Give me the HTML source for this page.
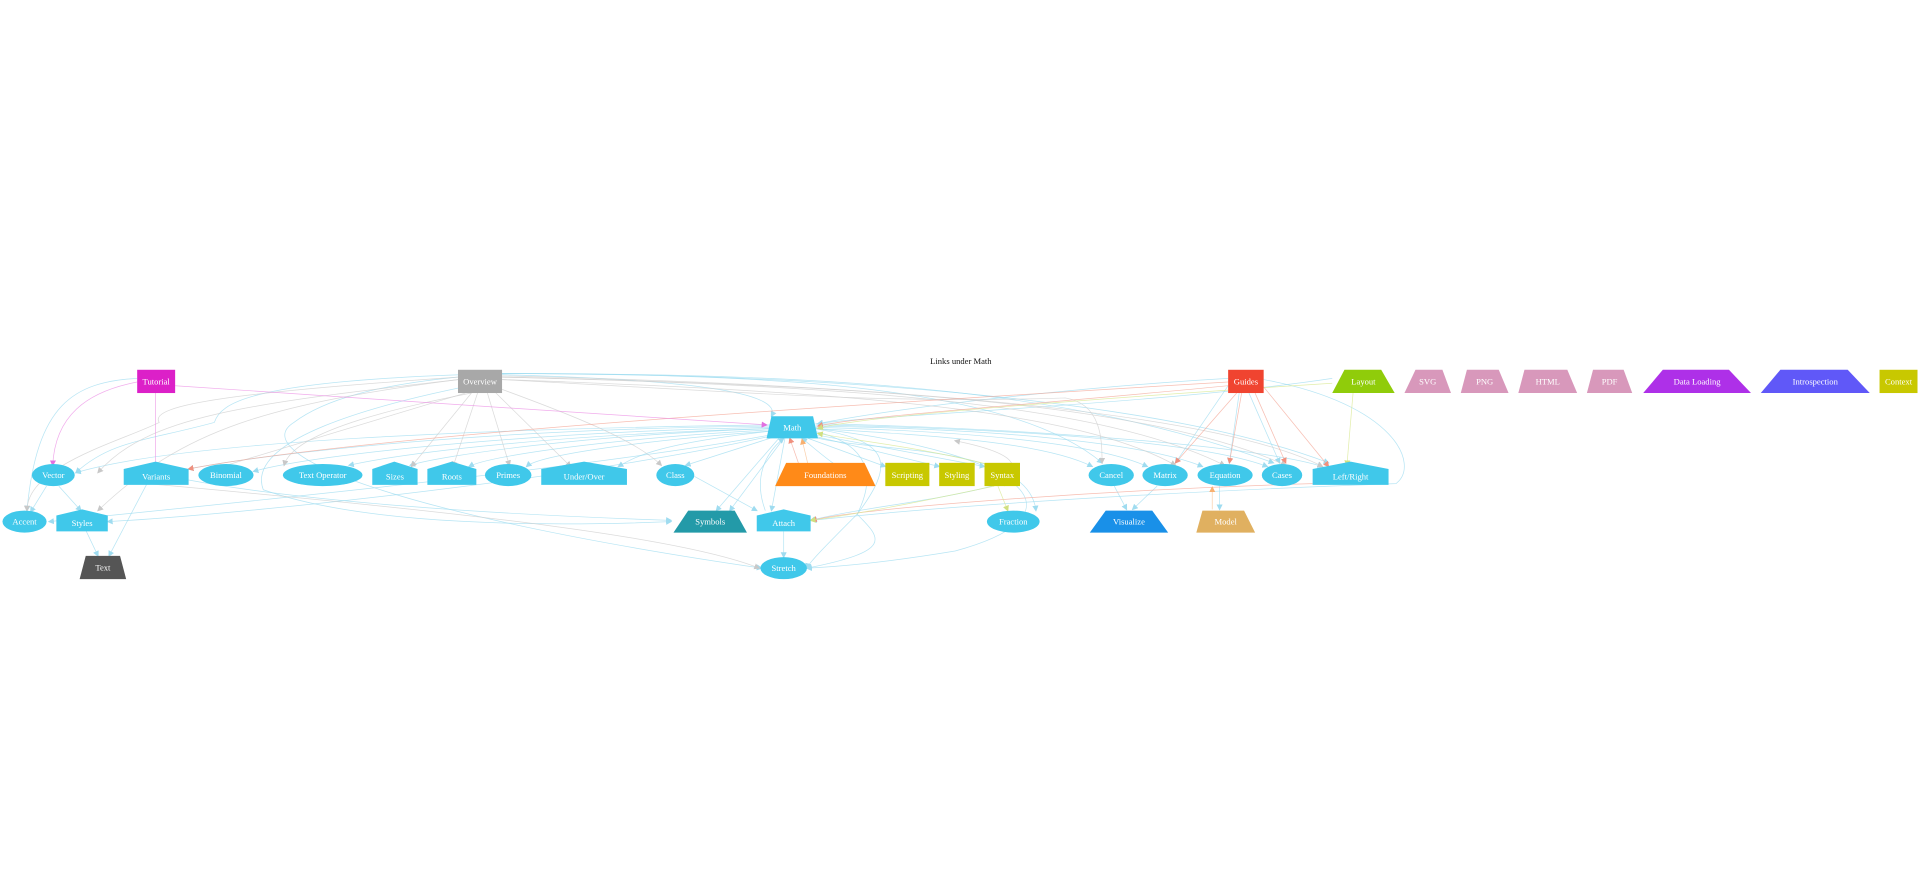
<!DOCTYPE html>
<html><head><meta charset="utf-8"><style>
html,body{margin:0;padding:0;background:#fff;}
svg{display:block;}
text{font-family:"Liberation Serif",serif;font-size:7px;fill:#fff;text-anchor:middle;dominant-baseline:central;}
</style></head><body>
<svg width="1920" height="892" viewBox="0 0 1568 728.5" xmlns="http://www.w3.org/2000/svg">
<defs>
<marker id="b" markerWidth="5" markerHeight="5" refX="4" refY="2.5" orient="auto" markerUnits="userSpaceOnUse"><path d="M0,0L5,2.5L0,5z" fill="#9fdcf0"/></marker>
<marker id="g" markerWidth="5" markerHeight="5" refX="4" refY="2.5" orient="auto" markerUnits="userSpaceOnUse"><path d="M0,0L5,2.5L0,5z" fill="#c8c8c8"/></marker>
<marker id="r" markerWidth="5" markerHeight="5" refX="4" refY="2.5" orient="auto" markerUnits="userSpaceOnUse"><path d="M0,0L5,2.5L0,5z" fill="#f0907e"/></marker>
<marker id="p" markerWidth="5" markerHeight="5" refX="4" refY="2.5" orient="auto" markerUnits="userSpaceOnUse"><path d="M0,0L5,2.5L0,5z" fill="#e070e0"/></marker>
<marker id="y" markerWidth="5" markerHeight="5" refX="4" refY="2.5" orient="auto" markerUnits="userSpaceOnUse"><path d="M0,0L5,2.5L0,5z" fill="#d0e080"/></marker>
<marker id="o" markerWidth="5" markerHeight="5" refX="4" refY="2.5" orient="auto" markerUnits="userSpaceOnUse"><path d="M0,0L5,2.5L0,5z" fill="#f8b070"/></marker>
</defs>
<text x="784.7" y="295" style="fill:#111;font-size:7px">Links under Math</text>
<g fill="none" stroke-width="0.6" stroke-opacity="0.75">
<g stroke="#9fdcf0" marker-end="url(#b)">
<path d="M112,309 C60,312 30,330 22,417"/>
<path d="M410,306 C560,310 640,320 630,340"/>
<path d="M410,305 C200,310 180,330 175,345 C120,360 90,360 62,386"/>
<path d="M410,305 C300,312 260,330 240,345 C200,370 320,420 622,464"/>
<path d="M410,310 C300,330 200,360 215,400 C300,430 450,430 548,426"/>
<path d="M410,305 C600,306 820,310 900,378"/>
<path d="M410,305 C700,305 880,320 1040,378"/>
<path d="M410,305 C700,305 960,330 1085,378"/>
<path d="M1003,309 C900,315 750,330 668,346"/>
<path d="M1003,315 L960,378"/>
<path d="M1012,321 L1004,378"/>
<path d="M1020,321 L1045,378"/>
<path d="M1032,310 C1140,330 1160,380 1140,395 C1000,400 800,410 663,425"/>
<path d="M1088,309 C950,330 700,340 668,346"/>
<path d="M630,347 C400,350 150,360 62,386"/>
<path d="M630,348 C400,350 220,370 154,383"/>
<path d="M630,349 C450,352 260,370 207,385"/>
<path d="M630,350 C450,355 330,370 285,380"/>
<path d="M630,350 C480,355 360,372 335,380"/>
<path d="M630,351 C500,358 400,372 383,381"/>
<path d="M630,352 C520,360 440,372 430,381"/>
<path d="M630,352 C540,362 520,372 505,381"/>
<path d="M635,356 L560,380"/>
<path d="M630,355 C500,380 200,410 40,426"/>
<path d="M630,356 C480,390 200,420 88,426"/>
<path d="M636,358 L585,417"/>
<path d="M640,358 L596,417"/>
<path d="M641,358 L630,417"/>
<path d="M660,358 L723,381"/>
<path d="M664,356 L767,381"/>
<path d="M666,355 L804,381"/>
<path d="M666,350 C750,355 850,360 892,381"/>
<path d="M666,349 C780,352 890,360 937,381"/>
<path d="M666,348 C800,350 930,360 982,381"/>
<path d="M666,347 C820,350 980,360 1035,381"/>
<path d="M666,346 C850,350 1030,365 1080,381"/>
<path d="M664,352 C700,360 720,380 700,420 C680,440 660,460 659,464"/>
<path d="M664,350 C730,360 730,380 700,420 C720,440 730,450 659,464"/>
<path d="M666,350 C840,370 890,420 780,450 C720,460 680,463 659,464"/>
<path d="M662,356 C700,370 840,360 846,417"/>
<path d="M567,389 L618,417"/>
<path d="M640,434 L640,455"/>
<path d="M910,397 L920,416"/>
<path d="M945,397 L925,416"/>
<path d="M996,397 L996,416"/>
<path d="M810,397 C760,410 700,415 662,425"/>
<path d="M38,397 L25,418"/>
<path d="M48,397 L66,417"/>
<path d="M70,433 L80,454"/>
<path d="M120,395 L89,454"/>
<path d="M154,392 C250,410 400,420 548,425"/>
<path d="M700,390 C680,380 670,370 655,358"/>
<path d="M625,417 C615,390 625,370 640,358"/>
</g>
<g stroke="#cfcfcf" marker-end="url(#g)">
<path d="M374,308 C200,320 120,330 130,345 C100,360 22,380 22,417"/>
<path d="M374,310 C200,330 120,340 80,386"/>
<path d="M374,310 C220,330 150,350 80,417"/>
<path d="M380,321 L175,383"/>
<path d="M385,321 C340,330 240,350 232,380"/>
<path d="M385,321 L336,381"/>
<path d="M390,321 L370,381"/>
<path d="M398,321 L416,380"/>
<path d="M405,321 L466,381"/>
<path d="M410,318 C470,340 520,360 540,380"/>
<path d="M410,310 C600,320 720,330 870,325 C900,330 900,360 900,378"/>
<path d="M410,310 C700,320 880,335 960,380"/>
<path d="M410,308 C700,315 900,330 1000,380"/>
<path d="M410,308 C720,315 940,330 1050,380"/>
<path d="M410,307 C760,315 1000,340 1080,381"/>
<path d="M120,395 C400,420 560,440 620,464"/>
<path d="M820,397 C835,380 830,370 780,360"/>
</g>
<g stroke="#f4a898" marker-end="url(#r)">
<path d="M1003,312 C700,330 300,355 154,383"/>
<path d="M1003,315 C850,330 700,340 668,348"/>
<path d="M1010,321 L960,378"/>
<path d="M1014,321 L1004,378"/>
<path d="M1025,321 L1050,378"/>
<path d="M1032,316 L1085,381"/>
<path d="M1072,395 C900,400 700,415 663,425"/>
<path d="M652,378 L645,358"/>
</g>
<g stroke="#ec90e6" marker-end="url(#p)">
<path d="M112,312 C70,320 45,340 43,380"/>
<path d="M127,321 L127,382"/>
<path d="M143,315 C300,325 500,340 626,347"/>
</g>
<g stroke="#d8e890" marker-end="url(#y)">
<path d="M1105,321 L1100,380"/>
<path d="M1088,313 C900,325 700,340 668,350"/>
<path d="M810,380 C750,365 700,360 668,354"/>
<path d="M815,397 L823,417"/>
<path d="M812,397 C750,410 700,420 662,425"/>
</g>
<g stroke="#f8c090" marker-end="url(#o)">
<path d="M990,416 L990,398"/>
<path d="M660,380 L655,359"/>
</g>
</g>
<rect x="112" y="302" width="31" height="19" fill="#dc20c8"/><text x="127.5" y="311.5">Tutorial</text>
<rect x="374" y="302" width="36" height="19" fill="#a8a8a8"/><text x="392" y="311.5">Overview</text>
<rect x="1003" y="302" width="29" height="19" fill="#f04430"/><text x="1017.5" y="311.5">Guides</text>
<polygon points="1098,302 1128,302 1139,321 1088,321" fill="#90cc0a"/><text x="1113.5" y="311.5">Layout</text>
<polygon points="1156,302 1178,302 1185,321 1147,321" fill="#d898bb"/><text x="1166" y="311.5">SVG</text>
<polygon points="1198,302 1224,302 1232,321 1193,321" fill="#d898bb"/><text x="1212.5" y="311.5">PNG</text>
<polygon points="1245,302 1280,302 1288,321 1240,321" fill="#d898bb"/><text x="1264" y="311.5">HTML</text>
<polygon points="1301,302 1326,302 1333,321 1296,321" fill="#d898bb"/><text x="1314.5" y="311.5">PDF</text>
<polygon points="1358,302 1412,302 1430,321 1342,321" fill="#ae30e8"/><text x="1386" y="311.5">Data Loading</text>
<polygon points="1454,302 1509,302 1527,321 1438,321" fill="#6058f8"/><text x="1482.5" y="311.5">Introspection</text>
<rect x="1535" y="302" width="31" height="19" fill="#c8c800"/><text x="1550.5" y="311.5">Context</text>
<polygon points="630,340 664,340 668,358 626,358" fill="#40c8ea"/><text x="647" y="349">Math</text>
<g fill="#40c8ea">
<ellipse cx="43.5" cy="388" rx="17.5" ry="9"/>
<polygon points="101,383 127,377 154,383 154,396 101,396"/>
<ellipse cx="184.5" cy="388" rx="22.5" ry="9"/>
<ellipse cx="263.5" cy="388" rx="32.5" ry="9"/>
<polygon points="304,383 322,377 341,383 341,396 304,396"/>
<polygon points="349,383 369,377 389,383 389,396 349,396"/>
<ellipse cx="415" cy="388" rx="19" ry="9"/>
<polygon points="442,383 477,377 512,383 512,396 442,396"/>
<ellipse cx="551.5" cy="388" rx="15.5" ry="9"/>
<ellipse cx="907.5" cy="388" rx="18.5" ry="9"/>
<ellipse cx="951.5" cy="388" rx="18.5" ry="9"/>
<ellipse cx="1000.5" cy="388" rx="22.5" ry="9"/>
<ellipse cx="1047" cy="388" rx="16.5" ry="9"/>
<polygon points="1072,383 1103,377 1134,383 1134,396 1072,396"/>
<ellipse cx="20" cy="426" rx="18" ry="9"/>
<polygon points="46,421 67,416 88,421 88,434 46,434"/>
<polygon points="618,421 640,416 662,421 662,434 618,434"/>
<ellipse cx="827.5" cy="426" rx="21.5" ry="9"/>
<ellipse cx="640" cy="464" rx="19" ry="9"/>
</g>
<polygon points="642,378 706,378 715,397 633,397" fill="#ff8a18"/>
<rect x="723" y="378" width="36" height="19" fill="#c8c800"/>
<rect x="767" y="378" width="29" height="19" fill="#c8c800"/>
<rect x="804" y="378" width="29" height="19" fill="#c8c800"/>
<polygon points="562,417 600,417 610,435 550,435" fill="#239aa8"/>
<polygon points="903,417 941,417 954,435 890,435" fill="#1990e8"/>
<polygon points="982,417 1016,417 1025,435 977,435" fill="#e0b060"/>
<polygon points="70,454 98,454 103,473 65,473" fill="#555"/>
<text x="43.5" y="388">Vector</text>
<text x="127.5" y="389">Variants</text>
<text x="184.5" y="388">Binomial</text>
<text x="263.5" y="388">Text Operator</text>
<text x="322.5" y="389">Sizes</text>
<text x="369" y="389">Roots</text>
<text x="415" y="388">Primes</text>
<text x="477" y="389">Under/Over</text>
<text x="551.5" y="388">Class</text>
<text x="674" y="388">Foundations</text>
<text x="741" y="388">Scripting</text>
<text x="781.5" y="388">Styling</text>
<text x="818.5" y="388">Syntax</text>
<text x="907.5" y="388">Cancel</text>
<text x="951.5" y="388">Matrix</text>
<text x="1000.5" y="388">Equation</text>
<text x="1047" y="388">Cases</text>
<text x="1103" y="389">Left/Right</text>
<text x="20" y="426">Accent</text>
<text x="67" y="427">Styles</text>
<text x="580" y="426">Symbols</text>
<text x="640" y="427">Attach</text>
<text x="827.5" y="426">Fraction</text>
<text x="922" y="426">Visualize</text>
<text x="1001" y="426">Model</text>
<text x="640" y="464">Stretch</text>
<text x="84" y="463.5">Text</text>
</svg>
</body></html>
